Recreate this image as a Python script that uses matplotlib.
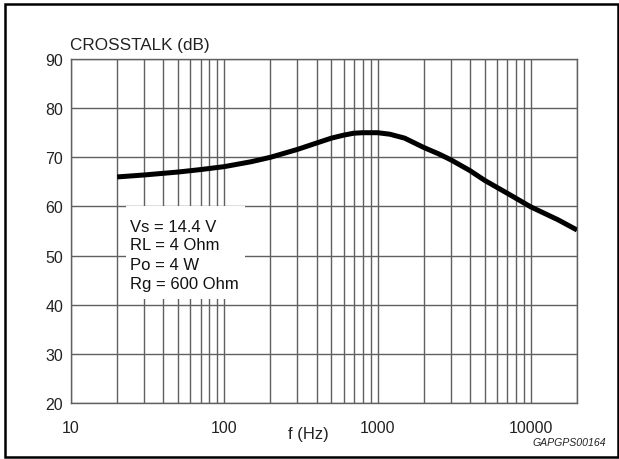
import matplotlib
matplotlib.use("Agg")
import matplotlib.pyplot as plt
from matplotlib.ticker import FixedLocator, NullFormatter
from matplotlib.patches import Rectangle

plt.rcParams['font.family'] = ['Liberation Sans', 'DejaVu Sans']

freq_hz = [20, 30, 50, 70, 100, 150, 200, 300, 400, 500, 600, 700, 800, 1000,
           1200, 1500, 2000, 2500, 3000, 4000, 5000, 7000, 10000, 15000, 20000]
crosstalk_db = [66.0, 66.4, 67.0, 67.5, 68.1, 69.1, 70.0, 71.6, 72.9, 73.9, 74.5,
                74.9, 75.0, 75.0, 74.7, 73.9, 72.0, 70.7, 69.5, 67.3, 65.3, 62.7,
                59.9, 57.3, 55.2]
x_ticks = [10, 100, 1000, 10000]
x_tick_labels = ["10", "100", "1000", "10000"]
y_ticks = [20, 30, 40, 50, 60, 70, 80, 90]
conditions = ["Vs = 14.4 V", "RL = 4 Ohm", "Po = 4 W", "Rg = 600 Ohm"]

W, H = 619, 460
fig = plt.figure(figsize=(W / 100, H / 100), dpi=100)
ax = fig.add_axes([71 / W, 1 - 404 / H, 506 / W, 344 / H])

ax.set_xscale('log')
ax.set_xlim(10, 20000)
ax.set_ylim(20, 90)

minor = [m * 10 ** e for e in range(1, 5) for m in range(2, 10) if m * 10 ** e <= 20000]
ax.xaxis.set_major_locator(FixedLocator(x_ticks))
ax.xaxis.set_minor_locator(FixedLocator(minor))
ax.xaxis.set_minor_formatter(NullFormatter())
ax.set_xticks(x_ticks)
ax.set_xticklabels(x_tick_labels)
ax.set_yticks(y_ticks)

gc = '#606060'
ax.grid(True, which='both', axis='x', color=gc, linewidth=1.0)
ax.grid(True, which='major', axis='y', color=gc, linewidth=1.0)
ax.set_axisbelow(True)
for s in ax.spines.values():
    s.set_color(gc)
    s.set_linewidth(1.0)
ax.tick_params(which='both', length=0, labelsize=11.5, colors='#222222')
ax.tick_params(axis='y', pad=5.5)
ax.tick_params(axis='x', pad=12)

ax.plot(freq_hz, crosstalk_db, color='black', linewidth=3.6,
        solid_joinstyle='round', solid_capstyle='butt', zorder=5)

# white box with conditions
box = Rectangle((126 / W, 1 - 300 / H), 119 / W, 93 / H,
                facecolor='white', edgecolor='none', zorder=3)
ax.add_artist(box)
box.set_transform(fig.transFigure)
baselines = [231.5, 250.5, 269.5, 288.5]
for txt, yb in zip(conditions, baselines):
    ax.text(130.5 / W, 1 - yb / H, txt, transform=fig.transFigure,
            fontsize=12, va='baseline', ha='left', color='#111111', zorder=6)

fig.text(70 / W, 1 - 50 / H, "CROSSTALK (dB)", fontsize=12.3, va='baseline', ha='left', color='#222222')
fig.text(308 / W, 1 - 439.5 / H, "f (Hz)", fontsize=12, va='baseline', ha='center', color='#222222')
fig.text(606 / W, 1 - 446 / H, "GAPGPS00164", fontsize=7.6, style='italic',
         va='baseline', ha='right', color='#222222')

# outer frame
frame = Rectangle((4.5 / W, 2.5 / H), 613.5 / W, 453 / H, transform=fig.transFigure,
                  facecolor='none', edgecolor='black', linewidth=1.8)
fig.patches.append(frame)

fig.savefig("out.png", dpi=100)
